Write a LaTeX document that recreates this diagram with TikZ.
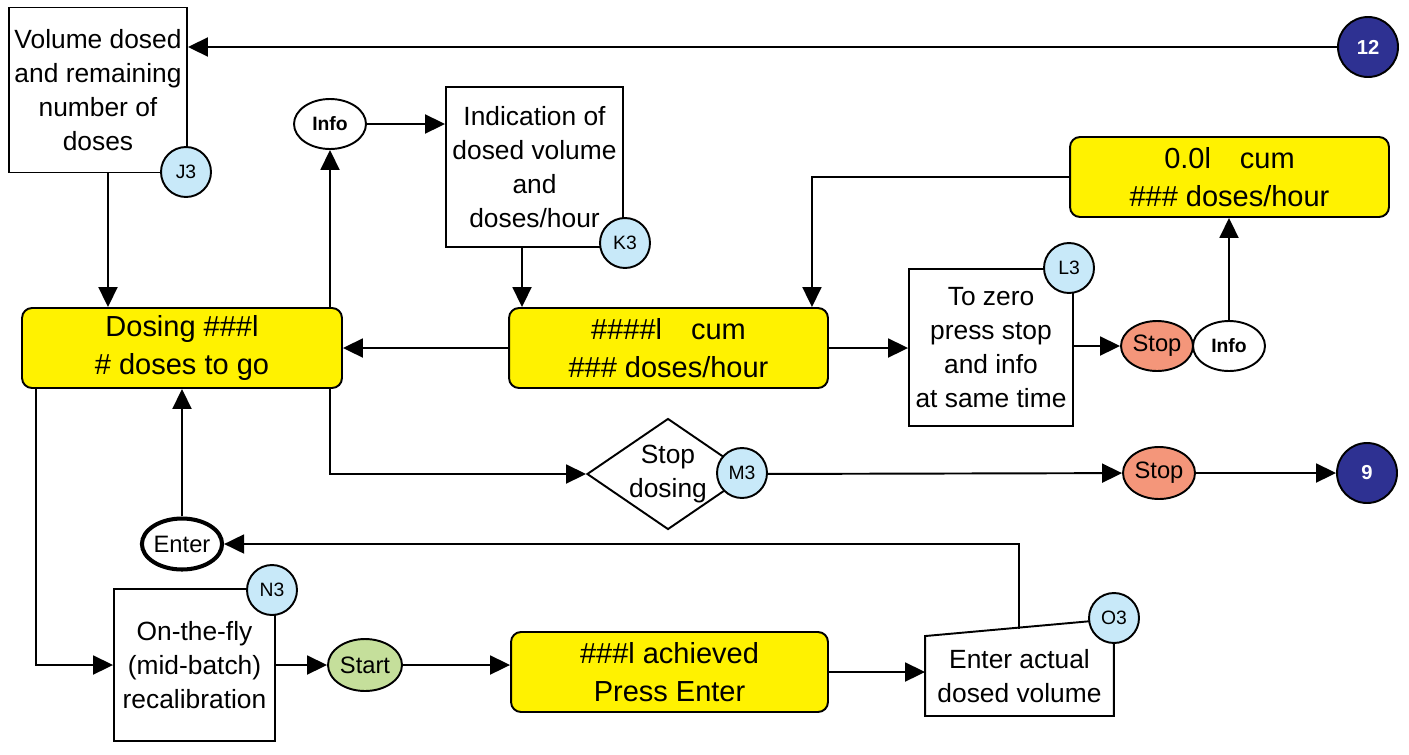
\documentclass[tikz,border=0pt]{standalone}
\usepackage{fontspec}
\setmainfont{Liberation Sans}
\usetikzlibrary{arrows.meta,shapes.geometric}
\definecolor{dispyellow}{HTML}{FFF200}
\definecolor{tagblue}{HTML}{C8E9F9}
\definecolor{stopred}{HTML}{F4967A}
\definecolor{startgreen}{HTML}{C5DF9B}
\definecolor{pagenavy}{HTML}{2E3192}

\begin{document}
\begin{tikzpicture}[x=0.02cm, y=-0.02cm, line width=1.1pt, >={Triangle[length=4mm,width=3.8mm]},
	every node/.style={font=\fontsize{15}{19.3}\selectfont, align=center, inner sep=1pt},
	txtbox/.style={draw, rectangle, fill=white},
	disp/.style={draw, rectangle, rounded corners=0.2cm, fill=dispyellow, font=\fontsize{16.5}{22}\selectfont},
	tag/.style={draw, circle, fill=tagblue, minimum size=1cm, inner sep=0pt, font=\fontsize{11}{12}\selectfont},
	key/.style={draw, ellipse, minimum width=1.44cm, minimum height=1cm, inner sep=0pt, font=\fontsize{13.5}{14}\selectfont},
	infokey/.style={key, fill=white, font=\fontsize{11}{12}\selectfont\bfseries},
	page/.style={draw, circle, fill=pagenavy, text=white, minimum size=1.2cm, inner sep=0pt, font=\fontsize{11.5}{12}\selectfont\bfseries}]
	\useasboundingbox (0,0) rectangle (1409,754);

	% boxes and displays
	\node (vol) [txtbox, minimum width=3.56cm, minimum height=3.3cm] at (98,90) {Volume dosed\\and remaining\\number of\\doses};
	\node (dose) [disp, minimum width=6.4cm, minimum height=1.6cm] at (182,348) {Dosing \#\#\#l\\\# doses to go};
	\node (ind) [txtbox, minimum width=3.54cm, minimum height=3.2cm] at (534.5,167) {Indication of\\dosed volume\\and\\doses/hour};
	\node (cum) [disp, minimum width=6.38cm, minimum height=1.6cm] at (668.5,348) {\#\#\#\#l\quad cum\\\#\#\# doses/hour};
	\node (zero) [txtbox, minimum width=3.28cm, minimum height=3.14cm] at (991,347.5) {To zero\\press stop\\and info\\at same time};
	\node (zcum) [disp, minimum width=6.38cm, minimum height=1.6cm] at (1229.5,177) {0.0l\quad cum\\\#\#\# doses/hour};
	\node (sdose) [draw, diamond, aspect=1.46, minimum width=3.16cm, minimum height=2.16cm, inner sep=0pt] at (668,474) {Stop\\dosing};
	\node (recal) [txtbox, minimum width=3.22cm, minimum height=3.04cm] at (194.5,665) {On-the-fly\\(mid-batch)\\recalibration};
	\node (ach) [disp, minimum width=6.34cm, minimum height=1.6cm] at (669.5,672) {\#\#\#l achieved\\Press Enter};
	\node (actual) [minimum width=3.74cm, minimum height=1.56cm] at (1019.5,676) {Enter actual\\dosed volume};
	\draw (actual.south west) -- (actual.north west) -- ([yshift=0.34cm]actual.north east) -- (actual.south east) -- cycle;

	% keys
	\node (info1) [infokey] at (330,124) {Info};
	\node (stop1) [key, fill=stopred] at (1157,346) {Stop};
	\node (info2) [infokey] at (1229,346) {Info};
	\node (stop2) [key, fill=stopred, minimum height=1.04cm] at (1159,473) {Stop};
	\node (enter) [key, line width=2.3pt, minimum width=1.4cm, minimum height=1.02cm] at (182,544) {Enter};
	\node (start) [key, fill=startgreen, minimum width=1.48cm, minimum height=1.04cm] at (365,665) {Start};
	\node (c12) [page] at (1368,47) {12};
	\node (c9) [page] at (1367,473) {9};

	% connectors
	\draw[->] (c12) -- (vol.east |- c12);
	\draw[->] ([xshift=2mm]vol.south) -- ([xshift=2mm]vol.south |- dose.north);
	\draw[->] (info1 |- dose.north) -- (info1);
	\draw[->] (info1) -- (info1 -| ind.west);
	\draw[->] ([xshift=-2.5mm]ind.south) -- ([xshift=-2.5mm]ind.south |- cum.north);
	\draw[->] (cum.west) -- (dose.east);
	\draw[->] (cum.east) -- (cum.east -| zero.west);
	\draw[->] (zero.east |- stop1) -- (stop1);
	\draw[->] (info2) -- (info2 |- zcum.south);
	\draw[->] (zcum.west) -| ([xshift=2.87cm]cum.north);
	\draw[->] (info1 |- dose.south) |- (sdose.west);
	\draw[->] (sdose.east) -- (stop2);
	\draw[->] (stop2) -- (c9);
	\draw[->] ([xshift=3mm]dose.south west) |- (recal.west);
	\draw[->] (enter) -- (enter |- dose.south);
	\draw[->] (recal.east) -- (start);
	\draw[->] (start.east) -- (start.east -| ach.west);
	\draw[->] (ach.east) -- (ach.east -| actual.west);
	\coordinate (a1) at (1019,629);
	\draw[->] (a1) |- (enter);

	% step tags
	\node (J3) [tag] at (186,172) {J3};
	\node (K3) [tag] at (625,243) {K3};
	\node (L3) [tag] at (1069,268) {L3};
	\node (M3) [tag] at (742,473) {M3};
	\node (N3) [tag] at (272,590) {N3};
	\node (O3) [tag] at (1114,618) {O3};
\end{tikzpicture}
\end{document}
